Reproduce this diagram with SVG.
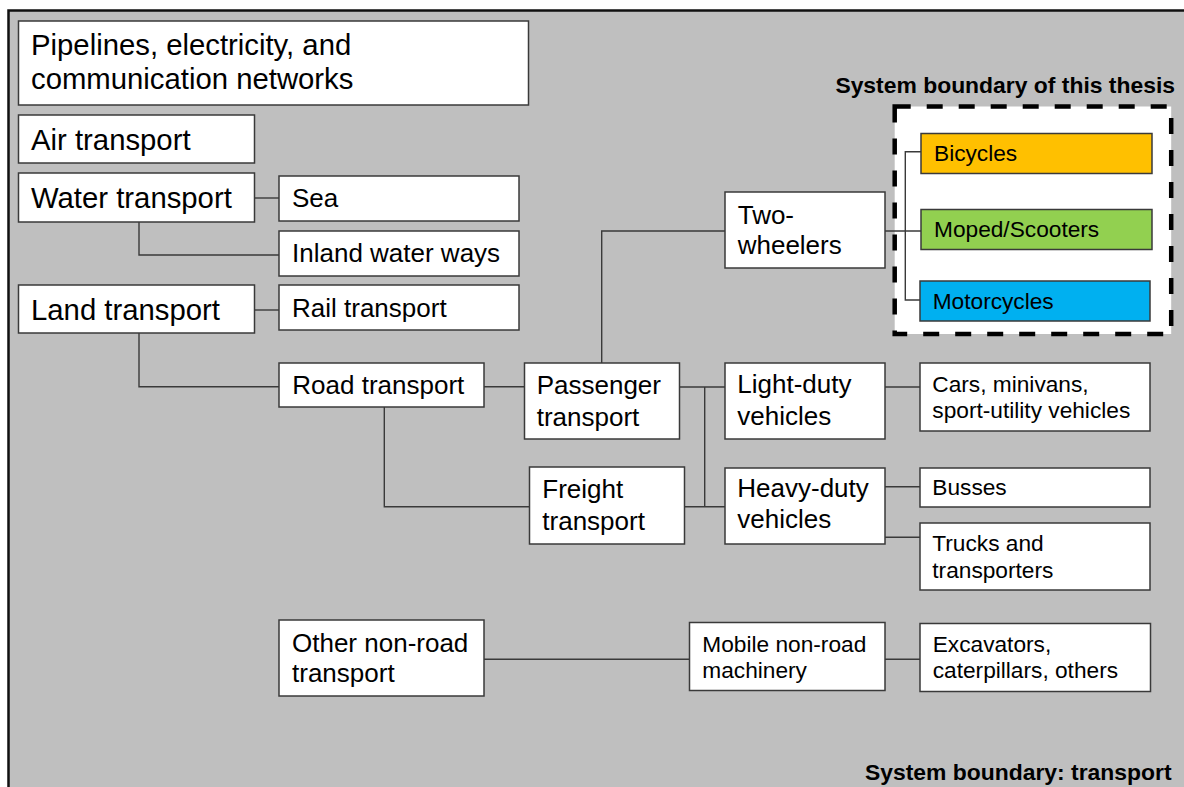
<svg xmlns="http://www.w3.org/2000/svg" width="1184" height="787" viewBox="0 0 1184 787">
<style>
.box{fill:#fff;stroke:#3a3a3a;stroke-width:1.5}
.t{font-family:"Liberation Sans",Arial,sans-serif;fill:#000}
.xl{font-size:29.3px}
.m{font-size:26px}
.s{font-size:22.7px}
.b{font-size:22.9px;font-weight:bold}
.c{fill:none;stroke:#3a3a3a;stroke-width:1.4}
</style>
<rect width="1184" height="787" fill="#fff"/>
<g id="transport-boundary">
<rect x="8.5" y="10.5" width="1190" height="800" fill="#bfbfbf" stroke="#111" stroke-width="2.5"/>
<text class="t b" x="1171.5" y="780" text-anchor="end">System boundary: transport</text>
</g>
<g id="thesis-boundary">
<rect x="894.7" y="106.5" width="276.5" height="227.5" fill="#fff" stroke="#000" stroke-width="4.5" stroke-dasharray="16 16"/>
<text class="t b" x="1175" y="93.3" text-anchor="end">System boundary of this thesis</text>
</g>
<g id="connectors">
<path class="c" d="M254.5 198H279"/>
<path class="c" d="M139 222V255H279"/>
<path class="c" d="M254.5 310H279"/>
<path class="c" d="M139 333V386.7H279"/>
<path class="c" d="M484 386.7H524.5"/>
<path class="c" d="M384.3 407V506.7H529.5"/>
<path class="c" d="M679.5 387H725"/>
<path class="c" d="M704.7 387V506.7"/>
<path class="c" d="M684.5 506.7H725"/>
<path class="c" d="M601.7 363V231H725"/>
<path class="c" d="M885 231H921"/>
<path class="c" d="M921 151.7H905.3V300H920"/>
<path class="c" d="M885 387H920"/>
<path class="c" d="M885 486.7H920"/>
<path class="c" d="M885 537.3H920"/>
<path class="c" d="M484 659.3H689.5"/>
<path class="c" d="M885 659.3H920"/>
</g>
<g id="pipelines"><rect class="box" x="18.5" y="21" width="510" height="84"/><text class="t xl" x="31" y="55">Pipelines, electricity, and</text><text class="t xl" x="31" y="89.3">communication networks</text></g>
<g id="air"><rect class="box" x="18.5" y="115" width="236" height="48"/><text class="t xl" x="31" y="150">Air transport</text></g>
<g id="water"><rect class="box" x="18.5" y="173" width="236" height="49"/><text class="t xl" x="31" y="208">Water transport</text></g>
<g id="land"><rect class="box" x="18.5" y="285" width="236" height="48"/><text class="t xl" x="31" y="320">Land transport</text></g>
<g id="sea"><rect class="box" x="279" y="176" width="240" height="45"/><text class="t m" x="292" y="207.3">Sea</text></g>
<g id="inland"><rect class="box" x="279" y="231" width="240" height="45"/><text class="t m" x="292" y="261.7">Inland water ways</text></g>
<g id="rail"><rect class="box" x="279" y="285" width="240" height="45"/><text class="t m" x="292" y="316.7">Rail transport</text></g>
<g id="road"><rect class="box" x="279" y="363" width="205" height="44"/><text class="t m" x="292.3" y="394">Road transport</text></g>
<g id="passenger"><rect class="box" x="524.5" y="363" width="155" height="76"/><text class="t m" x="536.7" y="394">Passenger</text><text class="t m" x="536.7" y="426">transport</text></g>
<g id="freight"><rect class="box" x="529.5" y="467" width="155" height="77"/><text class="t m" x="542.3" y="498.3">Freight</text><text class="t m" x="542.3" y="530">transport</text></g>
<g id="two-wheelers"><rect class="box" x="725" y="192" width="160" height="76"/><text class="t m" x="737.7" y="224">Two-</text><text class="t m" x="737.7" y="254">wheelers</text></g>
<g id="light-duty"><rect class="box" x="725" y="363" width="160" height="76"/><text class="t m" x="737.3" y="393.3">Light-duty</text><text class="t m" x="737.3" y="425">vehicles</text></g>
<g id="heavy-duty"><rect class="box" x="725" y="468" width="160" height="76"/><text class="t m" x="737.3" y="496.7">Heavy-duty</text><text class="t m" x="737.3" y="528.3">vehicles</text></g>
<g id="cars"><rect class="box" x="920" y="363" width="230" height="68"/><text class="t s" x="932.3" y="391.7">Cars, minivans,</text><text class="t s" x="932.3" y="418.3">sport-utility vehicles</text></g>
<g id="busses"><rect class="box" x="920" y="468" width="230" height="39"/><text class="t s" x="932.3" y="495">Busses</text></g>
<g id="trucks"><rect class="box" x="920" y="523" width="230" height="67"/><text class="t s" x="932.3" y="550.7">Trucks and</text><text class="t s" x="932.3" y="578.3">transporters</text></g>
<g id="bicycles"><rect class="box" x="921" y="133.5" width="231" height="40" style="fill:#FFC000"/><text class="t s" x="934" y="161">Bicycles</text></g>
<g id="moped"><rect class="box" x="921" y="209.5" width="231" height="40" style="fill:#92D050"/><text class="t s" x="934" y="237.3">Moped/Scooters</text></g>
<g id="motorcycles"><rect class="box" x="920" y="281" width="230" height="40" style="fill:#00B0F0"/><text class="t s" x="932.7" y="309.3">Motorcycles</text></g>
<g id="other"><rect class="box" x="279" y="620" width="205" height="76"/><text class="t m" x="292" y="651.7">Other non-road</text><text class="t m" x="292" y="681.7">transport</text></g>
<g id="mobile"><rect class="box" x="689.5" y="622.5" width="195.5" height="68"/><text class="t s" x="702.3" y="651.7">Mobile non-road</text><text class="t s" x="702.3" y="678.3">machinery</text></g>
<g id="excavators"><rect class="box" x="920" y="623.5" width="230.5" height="68"/><text class="t s" x="932.7" y="651.7">Excavators,</text><text class="t s" x="932.7" y="678.3">caterpillars, others</text></g>
</svg>
